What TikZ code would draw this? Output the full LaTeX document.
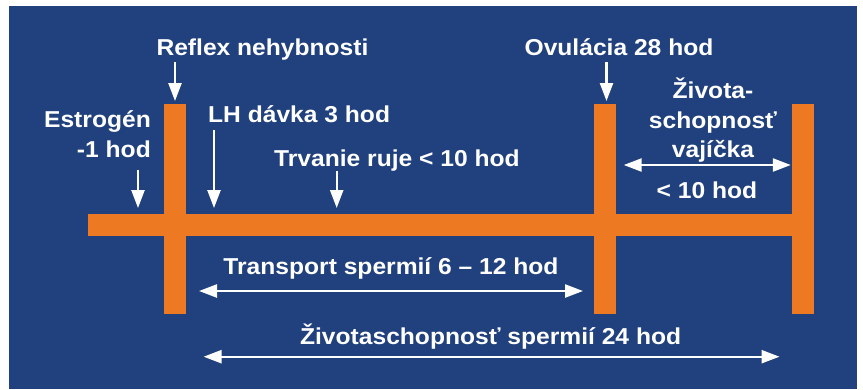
\documentclass[tikz,border=0pt]{standalone}
\usepackage{fontspec}
\setmainfont[FakeStretch=1.07]{Liberation Sans}
\usetikzlibrary{arrows.meta}
\definecolor{bgblue}{RGB}{32,65,125}
\definecolor{barorange}{RGB}{237,122,35}
\tikzset{
  lbl/.style={text=white, inner sep=0pt, font=\fontsize{23}{28}\selectfont\bfseries},
  bar/.style={fill=barorange, draw=none},
  downarrow/.style={draw=white, line width=2.4pt, -{Triangle[length=18pt,width=13pt]}},
  twoarrow/.style={draw=white, line width=2.4pt, {Triangle[length=18pt,width=13pt]}-{Triangle[length=18pt,width=13pt]}}
}
\begin{document}
\begin{tikzpicture}[x=1pt,y=-1pt]
\useasboundingbox (0,0) rectangle (863,389);
\fill[white] (0,0) rectangle (863,389);
\fill[bgblue] (9,5.7) rectangle (856.7,389);
% bars
\fill[bar] (87.5,214) rectangle (814.3,236);
\fill[bar] (163.5,104) rectangle (185.7,314);
\fill[bar] (594,104) rectangle (616,314);
\fill[bar] (792.3,104) rectangle (814.3,314);
% labels
\node[lbl, anchor=base] (reflex) at (262.5,55) {Reflex nehybnosti};
\node[lbl, anchor=base] (ovul) at (619,55) {Ovulácia 28 hod};
\node[lbl, anchor=base east] (estro1) at (151,127.7) {Estrogén};
\node[lbl, anchor=base east] (estro2) at (151,157.7) {-1 hod};
\node[lbl, anchor=base west] (lh) at (208,122.3) {LH dávka 3 hod};
\node[lbl, anchor=base west] (trv) at (274,166) {Trvanie ruje < 10 hod};
\node[lbl, anchor=base] (egg1) at (713,98) {Života-};
\node[lbl, anchor=base] (egg2) at (713,128) {schopnosť};
\node[lbl, anchor=base] (egg3) at (713,157) {vajíčka};
\node[lbl, anchor=base] (egg4) at (707,198) {< 10 hod};
\node[lbl, anchor=base] (transp) at (391,274.3) {Transport spermií 6 – 12 hod};
\node[lbl, anchor=base] (sperm) at (490.6,344) {Životaschopnosť spermií 24 hod};
% arrow coordinates
\coordinate (rA) at (175,62);   \coordinate (rB) at (175,101);
\coordinate (oA) at (606.5,62); \coordinate (oB) at (606.5,101);
\coordinate (eA) at (138,170);  \coordinate (eB) at (138,208);
\coordinate (lA) at (214,130);  \coordinate (lB) at (214,208);
\coordinate (tA) at (336.7,171);\coordinate (tB) at (336.7,208);
\coordinate (vA) at (623.7,165);\coordinate (vB) at (790.8,165);
\coordinate (sA) at (199,291);  \coordinate (sB) at (583,291);
\coordinate (pA) at (203.6,356.7); \coordinate (pB) at (779.5,356.7);
\draw[downarrow] (rA) -- (rB);
\draw[downarrow] (oA) -- (oB);
\draw[downarrow] (eA) -- (eB);
\draw[downarrow] (lA) -- (lB);
\draw[downarrow] (tA) -- (tB);
\draw[twoarrow] (vA) -- (vB);
\draw[twoarrow] (sA) -- (sB);
\draw[twoarrow] (pA) -- (pB);
\end{tikzpicture}
\end{document}
